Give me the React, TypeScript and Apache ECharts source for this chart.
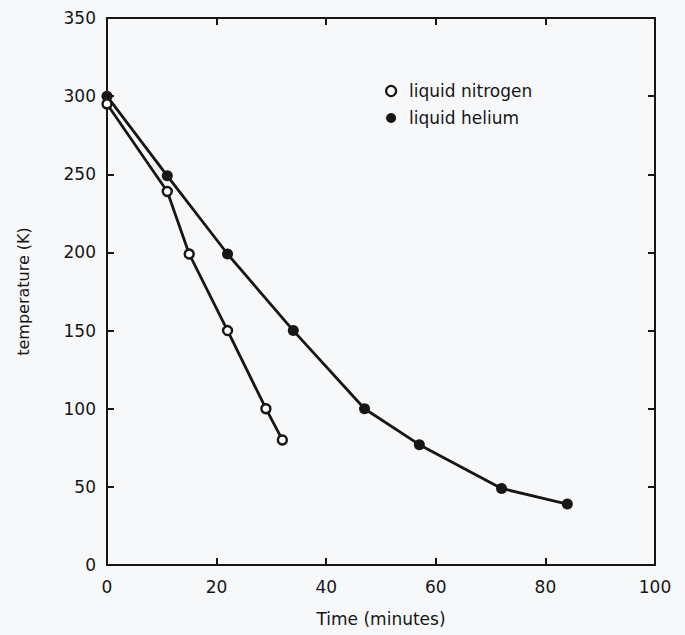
import React, { useEffect, useRef } from "react";
import * as echarts from "echarts";

const nitrogenTime = [0, 11, 15, 22, 29, 32];
const nitrogenTemp = [295, 239, 199, 150, 100, 80];
const heliumTime = [0, 11, 22, 34, 47, 57, 72, 84];
const heliumTemp = [300, 249, 199, 150, 100, 77, 49, 39];

const xTicks = [0, 20, 40, 60, 80, 100];
const yTicks = [0, 50, 100, 150, 200, 250, 300, 350];

const FONT = "DejaVu Sans";
const INK = "#161616";

export default function App() {
  const ref = useRef<HTMLDivElement>(null);
  useEffect(() => {
    if (!ref.current) return;
    const chart = echarts.init(ref.current, undefined, { renderer: "svg" });
    const axisLine = { show: true, onZero: false, lineStyle: { color: INK, width: 2 } };
    const axisTick = { show: true, inside: true, length: 7, lineStyle: { color: INK, width: 2 } };
    const xBase = {
      type: "value" as const,
      min: xTicks[0],
      max: xTicks[xTicks.length - 1],
      interval: xTicks[1] - xTicks[0],
      axisLine,
      axisTick,
      splitLine: { show: false },
    };
    const yBase = {
      type: "value" as const,
      min: yTicks[0],
      max: yTicks[yTicks.length - 1],
      interval: yTicks[1] - yTicks[0],
      axisLine,
      axisTick,
      splitLine: { show: false },
    };
    chart.setOption({
      animation: false,
      backgroundColor: "#f6f8fa",
      textStyle: { fontFamily: FONT },
      grid: { left: 107, right: 30, top: 18, bottom: 70 },
      legend: {
        orient: "vertical",
        left: 380,
        top: 77,
        itemWidth: 10,
        itemHeight: 10,
        itemGap: 9,
        icon: "circle",
        textStyle: { fontFamily: FONT, fontSize: 17, color: INK, lineHeight: 18, padding: [0, 0, 0, 8] },
        data: [
          { name: "liquid nitrogen", icon: "circle", itemStyle: { color: "#fff", borderColor: INK, borderWidth: 2.2 } },
          { name: "liquid helium", icon: "circle", itemStyle: { color: INK, borderWidth: 0 } },
        ],
      },
      xAxis: [
        {
          ...xBase,
          position: "bottom",
          name: "Time (minutes)",
          nameLocation: "middle",
          nameGap: 45,
          nameTextStyle: { fontFamily: FONT, fontSize: 17, color: INK },
          axisLabel: { fontFamily: FONT, fontSize: 17, color: INK, margin: 13 },
        },
        { ...xBase, position: "top", axisLabel: { show: false } },
      ],
      yAxis: [
        {
          ...yBase,
          position: "left",
          name: "temperature (K)",
          nameLocation: "middle",
          nameGap: 76,
          nameRotate: 90,
          nameTextStyle: { fontFamily: FONT, fontSize: 16, color: INK },
          axisLabel: { fontFamily: FONT, fontSize: 17, color: INK, margin: 11 },
        },
        { ...yBase, position: "right", axisLabel: { show: false } },
      ],
      series: [
        {
          name: "liquid helium",
          type: "line",
          xAxisIndex: 0,
          yAxisIndex: 0,
          data: heliumTime.map((t, i) => [t, heliumTemp[i]]),
          symbol: "circle",
          symbolSize: 11,
          itemStyle: { color: INK },
          lineStyle: { color: INK, width: 2.8 },
          z: 3,
        },
        {
          name: "liquid nitrogen",
          type: "line",
          xAxisIndex: 0,
          yAxisIndex: 0,
          data: nitrogenTime.map((t, i) => [t, nitrogenTemp[i]]),
          symbol: "circle",
          symbolSize: 9,
          showAllSymbol: true,
          itemStyle: { color: "#fff", borderColor: INK, borderWidth: 2.4 },
          lineStyle: { color: INK, width: 2.8 },
          z: 4,
        },
      ],
    });
    return () => chart.dispose();
  }, []);
  return (
    <div
      ref={ref}
      style={{ position: "fixed", left: 0, top: 0, width: 685, height: 635 }}
    />
  );
}
